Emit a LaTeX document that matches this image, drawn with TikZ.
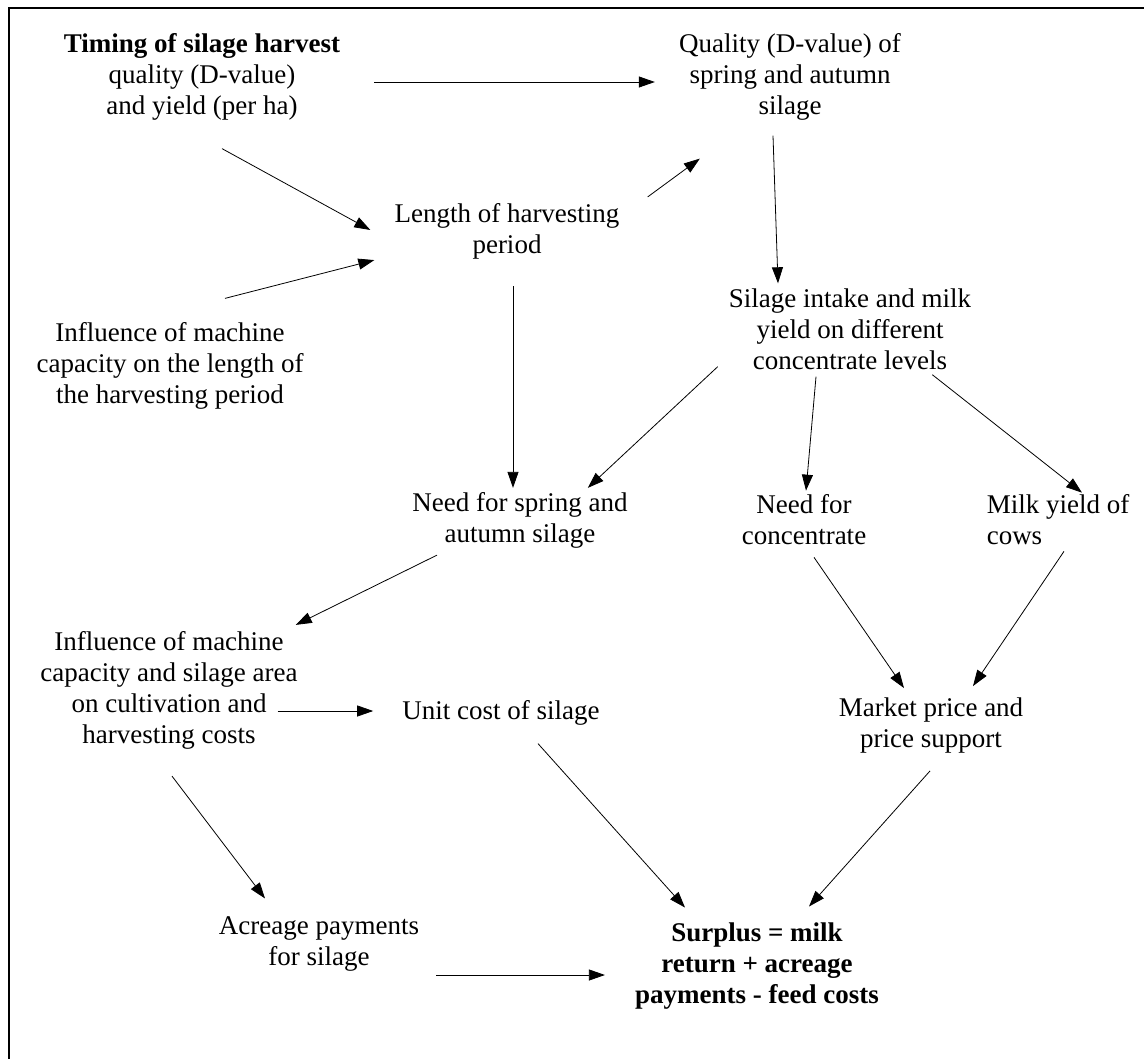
\documentclass[tikz,border=0pt]{standalone}
\usepackage{fontspec}
\setmainfont{Liberation Serif}
\usepackage{tikz}
\usetikzlibrary{arrows.meta,positioning,calc}

\begin{document}
\begin{tikzpicture}[
    x=1pt, y=-1pt,
    box/.style={inner sep=0pt, align=center, font=\fontsize{27}{31}\selectfont},
    arrow/.style={-{Triangle[length=16pt,width=11pt]}, line width=0.8pt}
  ]
    \useasboundingbox (0,0) rectangle (1144,1059);
    \draw[line width=1.4pt] (9,1059) -- (9,8) -- (1144,8);

    % top row
    \node[box] (timing) at (202,77) {\textbf{Timing of silage harvest}\\quality (D-value)\\and yield (per ha)};
    \node[box] (quality) at (790,77) {Quality (D-value) of\\spring and autumn\\silage};
    \node[box] (length) at (507,231) {Length of harvesting\\period};
    \node[box] (machine) at (170,366) {Influence of machine\\capacity on the length of\\the harvesting period};
    \node[box] (intake) at (850,329) {Silage intake and milk\\yield on different\\concentrate levels};

    % middle
    \node[box] (needsil) at (520,520) {Need for spring and\\autumn silage};
    \node[box] (needconc) at (804,520) {Need for\\concentrate};
    \node[box, align=left] (milk) at (1058,520) {Milk yield of\\cows};
    \node[box] (costs) at (169,690) {Influence of machine\\capacity and silage area\\on cultivation and\\harvesting costs};
    \node[box] (unit) at (501,713) {Unit cost of silage};
    \node[box] (market) at (931,726) {Market price and\\price support};

    % bottom
    \node[box] (acreage) at (319,944) {Acreage payments\\for silage};
    \node[box, font=\fontsize{27}{31}\selectfont\bfseries] (surplus) at (757,966) {Surplus = milk\\return + acreage\\payments - feed costs};

    \draw[arrow] ([shift={(34,5)}]timing.east) -- ([shift={(-24,5)}]quality.west);
    \draw[arrow] ([shift={(20,28)}]timing.south) -- ([shift={(-24,-1)}]length.west);
    \draw[arrow] ([shift={(55,-24)}]machine.north) -- ([shift={(-20,1)}]length.south west);
    \draw[arrow] ([shift={(28,-6)}]length.north east) -- ([shift={(21,38)}]quality.south west);
    \draw[arrow] ([shift={(-17,15)}]quality.south) -- ([shift={(-72,-5)}]intake.north);
    \draw[arrow] ([shift={(6,27)}]length.south) -- ([shift={(-7,-4)}]needsil.north);
    \draw[arrow] ([shift={(-11,-3)}]intake.south west) -- ([shift={(-40,-4)}]needsil.north east);
    \draw[arrow] ([shift={(-34,7)}]intake.south) -- ([shift={(2,-4)}]needconc.north);
    \draw[arrow] ([shift={(-39,5)}]intake.south east) -- ([shift={(24,-2)}]milk.north);
    \draw[arrow] ([shift={(-83,7)}]needsil.south) -- ([shift={(-2,-6)}]costs.north east);
    \draw[arrow] ([shift={(-20,21)}]costs.east) -- ([shift={(-29,-2)}]unit.west);
    \draw[arrow] ([shift={(3,27)}]costs.south) -- ([shift={(-54,-18)}]acreage.north);
    \draw[arrow] ([shift={(37,18)}]unit.south) -- ([shift={(-72,-15)}]surplus.north);
    \draw[arrow] ([shift={(17,31)}]acreage.east) -- ([shift={(-30,9)}]surplus.west);
    \draw[arrow] ([shift={(10,12)}]needconc.south) -- ([shift={(-27,-10)}]market.north);
    \draw[arrow] ([shift={(6,6)}]milk.south) -- ([shift={(42,-12)}]market.north);
    \draw[arrow] ([shift={(-1,17)}]market.south) -- ([shift={(52,-16)}]surplus.north);
  \end{tikzpicture}
\end{document}
